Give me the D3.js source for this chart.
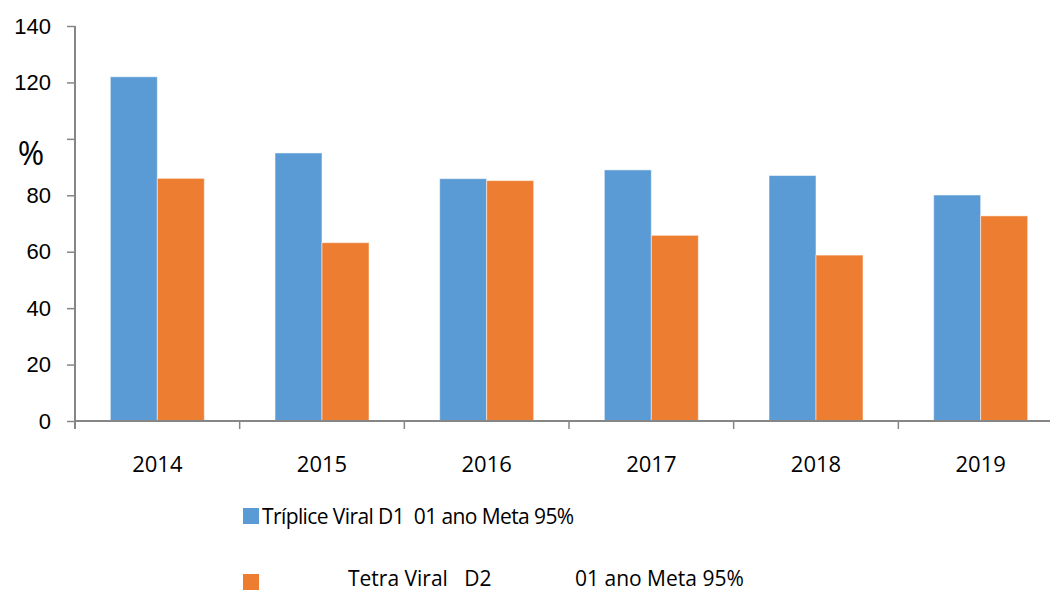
<!DOCTYPE html>
<html>
<head>
<meta charset="utf-8">
<script src="https://cdn.jsdelivr.net/npm/d3@7"></script>
<style>
  body { margin: 0; background: #fff; }
  svg { display: block; font-family: "Open Sans", sans-serif; }
</style>
</head>
<body>
<div id="chart"></div>
<script>
// données
const years = ["2014", "2015", "2016", "2017", "2018", "2019"];
const series = ["Tríplice Viral D1  01 ano Meta 95%", "Tetra Viral   D2"];
const triplice = [122.0, 95.0, 85.9, 89.0, 87.0, 80.1];
const tetra = [86.0, 63.2, 85.2, 65.8, 58.8, 72.7];
const yTicks = [0, 20, 40, 60, 80, 100, 120, 140];
const yTickLabels = ["0", "20", "40", "60", "80", "", "120", "140"];
const colors = ["#5B9BD5", "#ED7D31"];

const width = 1050, height = 592;
const axisColor = "#868686";

const svg = d3.select("#chart")
    .append("svg")
    .attr("width", width)
    .attr("height", height);

const x0 = d3.scaleBand()
    .domain(years)
    .range([75, 1063]);

const x1 = d3.scaleBand()
    .domain([0, 1])
    .range([0, x0.bandwidth()])
    .paddingOuter(0.752);

const y = d3.scaleLinear()
    .domain([0, 140])
    .range([421, 26]);

// barres
const rows = years.map((yr, i) => ({ year: yr, values: [triplice[i], tetra[i]] }));

svg.append("g")
    .selectAll("g")
    .data(rows)
    .join("g")
    .attr("transform", d => `translate(${x0(d.year)},0)`)
    .selectAll("rect")
    .data(d => d.values.map((v, k) => ({ k, v })))
    .join("rect")
    .attr("x", d => x1(d.k))
    .attr("y", d => y(d.v))
    .attr("width", x1.bandwidth())
    .attr("height", d => y(0) - y(d.v))
    .attr("fill", d => colors[d.k])
    .attr("stroke", "rgba(255,255,255,0.5)")
    .attr("stroke-width", 1);

// axe Y
const yAxis = svg.append("g")
    .attr("transform", "translate(75,0)")
    .call(d3.axisLeft(y)
        .tickValues(yTicks)
        .tickFormat((d, i) => yTickLabels[i])
        .tickSize(8)
        .tickPadding(16));
yAxis.select(".domain").remove();
yAxis.append("line")
    .attr("y1", y(140))
    .attr("y2", y(0) + 8)
    .attr("stroke", axisColor)
    .attr("stroke-width", 2);
yAxis.selectAll(".tick line").attr("stroke", axisColor).attr("stroke-width", 1.5);
yAxis.selectAll(".tick text")
    .attr("fill", "#000")
    .style("font-size", "22px");

// titre "%"
svg.append("text")
    .attr("x", 31)
    .attr("y", 165)
    .attr("text-anchor", "middle")
    .style("font-size", "32px")
    .attr("fill", "#000")
    .text("%");

// axe X
const xAxis = svg.append("g")
    .attr("transform", `translate(0,${y(0)})`);
xAxis.append("line")
    .attr("x1", 75)
    .attr("x2", width)
    .attr("stroke", axisColor)
    .attr("stroke-width", 2);
xAxis.selectAll(".sep")
    .data(years.slice(1))
    .join("line")
    .attr("class", "sep")
    .attr("x1", d => x0(d))
    .attr("x2", d => x0(d))
    .attr("y1", 0)
    .attr("y2", 8)
    .attr("stroke", axisColor)
    .attr("stroke-width", 1.5);
xAxis.selectAll(".lbl")
    .data(years)
    .join("text")
    .attr("class", "lbl")
    .attr("x", d => x0(d) + x0.bandwidth() / 2)
    .attr("y", 51)
    .attr("text-anchor", "middle")
    .style("font-size", "22px")
    .attr("fill", "#000")
    .text(d => d);

// légende
const legend = svg.append("g");
legend.selectAll("rect")
    .data(colors)
    .join("rect")
    .attr("x", 243)
    .attr("y", (d, i) => 508 + i * 66)
    .attr("width", 16)
    .attr("height", 16)
    .attr("fill", d => d);

legend.append("text")
    .attr("x", 262)
    .attr("y", 524)
    .style("font-size", "21px")
    .style("letter-spacing", "-0.6px")
    .style("white-space", "pre")
    .text(series[0]);

legend.append("text")
    .attr("x", 348)
    .attr("y", 586)
    .style("font-size", "21px")
    .style("white-space", "pre")
    .text(series[1]);

legend.append("text")
    .attr("x", 575)
    .attr("y", 586)
    .style("font-size", "21px")
    .text("01 ano Meta 95%");
</script>
</body>
</html>
